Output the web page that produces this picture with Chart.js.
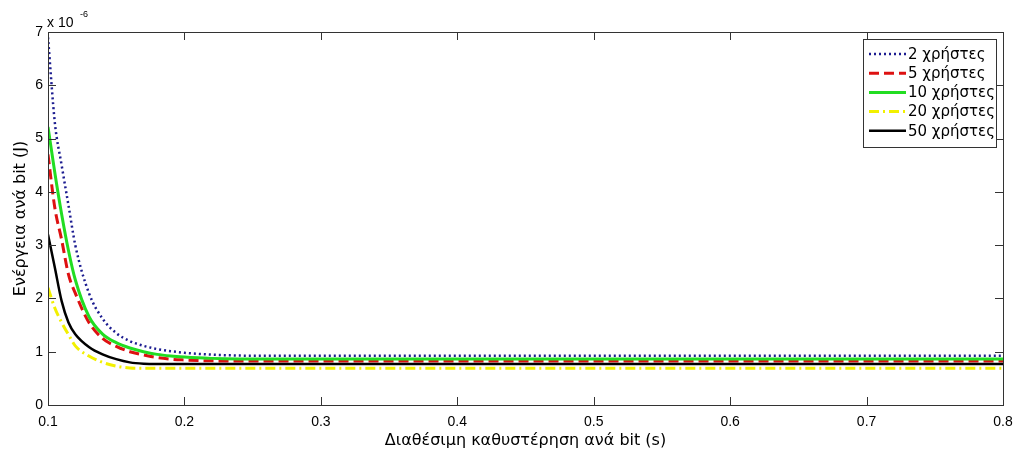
<!DOCTYPE html>
<html>
<head>
<meta charset="utf-8">
<script src="https://cdn.jsdelivr.net/npm/chart.js@4.4.1/dist/chart.umd.min.js"></script>
<style>
  body { margin: 0; background: #fff; }
  #wrap { width: 1015px; height: 450px; }
</style>
</head>
<body>
<div id="wrap"><canvas id="energyChart" width="1015" height="450"></canvas></div>
<script>
// x values (s) - dense near the start where the curves drop
var delays = [0.1, 0.105, 0.11, 0.115, 0.12, 0.13, 0.14, 0.15, 0.16, 0.17, 0.18, 0.19, 0.2, 0.21, 0.22, 0.23, 0.25, 0.3, 0.4, 0.5, 0.6, 0.7, 0.8];

// energy per bit, in units of 1e-6 J
var users2  = [6.9, 5.3, 4.5, 3.75, 3.0, 2.1, 1.62, 1.35, 1.2, 1.11, 1.05, 1.01, 0.98, 0.96, 0.945, 0.935, 0.925, 0.925, 0.925, 0.925, 0.925, 0.925, 0.925];
var users5  = [4.7, 3.7, 3.1, 2.45, 2.1, 1.55, 1.25, 1.1, 1.0, 0.94, 0.89, 0.86, 0.845, 0.835, 0.83, 0.826, 0.825, 0.825, 0.825, 0.825, 0.825, 0.825, 0.825];
var users10 = [5.22, 4.36, 3.58, 2.9, 2.35, 1.66, 1.33, 1.17, 1.07, 1.0, 0.95, 0.92, 0.9, 0.885, 0.875, 0.868, 0.863, 0.863, 0.863, 0.863, 0.863, 0.863, 0.863];
var users20 = [2.2, 1.82, 1.55, 1.32, 1.11, 0.92, 0.8, 0.73, 0.695, 0.69, 0.69, 0.69, 0.69, 0.69, 0.69, 0.69, 0.69, 0.69, 0.69, 0.69, 0.69, 0.69, 0.69];
var users50 = [3.2, 2.58, 1.95, 1.55, 1.33, 1.09, 0.95, 0.86, 0.8, 0.775, 0.77, 0.77, 0.77, 0.77, 0.77, 0.77, 0.77, 0.77, 0.77, 0.77, 0.77, 0.77, 0.77];

var seriesNames = ['2 χρήστες', '5 χρήστες', '10 χρήστες', '20 χρήστες', '50 χρήστες'];
var xTicks = [0.1, 0.2, 0.3, 0.4, 0.5, 0.6, 0.7, 0.8];
var yTicks = [0, 1, 2, 3, 4, 5, 6, 7];

var FONT = 'Liberation Sans, Arial, sans-serif';
var WIDE = 'DejaVu Sans, Verdana, sans-serif';

function toPoints(ys) {
    return ys.map(function (y, i) { return { x: delays[i], y: y }; });
}

// box round the plot with ticks pointing inwards, like matlab
var boxPlugin = {
    id: 'box',
    afterDatasetsDraw: function (chart) {
        var ctx = chart.ctx, a = chart.chartArea;
        var xs = chart.scales.x, ys = chart.scales.y;
        var len = 8;
        ctx.save();
        ctx.strokeStyle = '#333';
        ctx.lineWidth = 1;
        ctx.beginPath();
        xTicks.forEach(function (v) {
            var px = Math.round(xs.getPixelForValue(v)) + 0.5;
            ctx.moveTo(px, a.bottom); ctx.lineTo(px, a.bottom - len);
            ctx.moveTo(px, a.top); ctx.lineTo(px, a.top + len);
        });
        yTicks.forEach(function (v) {
            var py = Math.round(ys.getPixelForValue(v)) + 0.5;
            ctx.moveTo(a.left, py); ctx.lineTo(a.left + len, py);
            ctx.moveTo(a.right, py); ctx.lineTo(a.right - len, py);
        });
        ctx.stroke();
        ctx.strokeRect(Math.round(a.left) + 0.5, Math.round(a.top) + 0.5,
            Math.round(a.right - a.left), Math.round(a.bottom - a.top));

        // exponent label
        ctx.fillStyle = '#000';
        ctx.textBaseline = 'alphabetic';
        ctx.textAlign = 'left';
        ctx.font = '14px ' + FONT;
        ctx.fillText('x 10', a.left - 1, a.top - 5);
        ctx.font = '9px ' + FONT;
        ctx.fillText('-6', a.left + 32, a.top - 15);
        ctx.restore();
    }
};

// legend box in the upper right corner
var legendPlugin = {
    id: 'innerLegend',
    afterDraw: function (chart) {
        var ctx = chart.ctx;
        var bx = 863, by = 39, bw = 133, bh = 108;
        ctx.save();
        ctx.fillStyle = '#fff';
        ctx.fillRect(bx, by, bw, bh);
        ctx.strokeStyle = '#333';
        ctx.lineWidth = 1;
        ctx.strokeRect(bx + 0.5, by + 0.5, bw, bh);
        ctx.font = '15px ' + WIDE;
        ctx.textBaseline = 'middle';
        ctx.textAlign = 'left';
        chart.data.datasets.forEach(function (ds, i) {
            var y = by + 15 + i * 19.2;
            ctx.strokeStyle = ds.borderColor;
            ctx.lineWidth = ds.borderWidth;
            ctx.setLineDash(ds.borderDash || []);
            ctx.beginPath();
            ctx.moveTo(bx + 6, y);
            ctx.lineTo(bx + 43, y);
            ctx.stroke();
            ctx.setLineDash([]);
            ctx.fillStyle = '#000';
            ctx.fillText(ds.label, bx + 45, y + 1);
        });
        ctx.restore();
    }
};

var ctx = document.getElementById('energyChart').getContext('2d');
var energyChart = new Chart(ctx, {
    type: 'line',
    data: {
        datasets: [
            { label: seriesNames[0], data: toPoints(users2), borderColor: '#1c1c90', borderWidth: 2.5, borderDash: [2, 3], order: 5 },
            { label: seriesNames[1], data: toPoints(users5), borderColor: '#dd1111', borderWidth: 3, borderDash: [10, 5], order: 4 },
            { label: seriesNames[2], data: toPoints(users10), borderColor: '#22dd22', borderWidth: 3, order: 3 },
            { label: seriesNames[3], data: toPoints(users20), borderColor: '#f2f000', borderWidth: 3, borderDash: [10, 4, 2, 4], order: 2 },
            { label: seriesNames[4], data: toPoints(users50), borderColor: '#000000', borderWidth: 2.5, order: 1 }
        ]
    },
    options: {
        responsive: false,
        animation: false,
        cubicInterpolationMode: 'monotone',
        elements: { point: { radius: 0 } },
        layout: { padding: { top: 32, right: 12, left: 0, bottom: 0 } },
        plugins: { legend: { display: false }, tooltip: { enabled: false } },
        scales: {
            x: {
                type: 'linear',
                min: 0.1,
                max: 0.8,
                afterBuildTicks: function (s) { s.ticks = xTicks.map(function (v) { return { value: v }; }); },
                afterFit: function (s) { s.height = 45; s.paddingLeft = 0; s.paddingRight = 0; },
                grid: { display: false, drawTicks: false },
                border: { display: false },
                ticks: {
                    autoSkip: false, maxRotation: 0, padding: 9, color: '#000',
                    font: { family: FONT, size: 14 },
                    callback: function (v) { return v.toFixed(1); }
                },
                title: {
                    display: true, text: 'Διαθέσιμη καθυστέρηση ανά bit (s)', color: '#000',
                    font: { family: WIDE, size: 16 }, padding: { top: 0, bottom: 0 }
                }
            },
            y: {
                min: 0,
                max: 7,
                afterBuildTicks: function (s) { s.ticks = yTicks.map(function (v) { return { value: v }; }); },
                afterFit: function (s) { s.width = 48; s.paddingTop = 0; s.paddingBottom = 0; },
                grid: { display: false, drawTicks: false },
                border: { display: false },
                ticks: { padding: 5, color: '#000', font: { family: FONT, size: 14 } },
                title: {
                    display: true, text: 'Ενέργεια ανά bit (J)', color: '#000',
                    font: { family: WIDE, size: 16 }, padding: { top: 11, bottom: 0 }
                }
            }
        }
    },
    plugins: [boxPlugin, legendPlugin]
});
</script>
</body>
</html>
